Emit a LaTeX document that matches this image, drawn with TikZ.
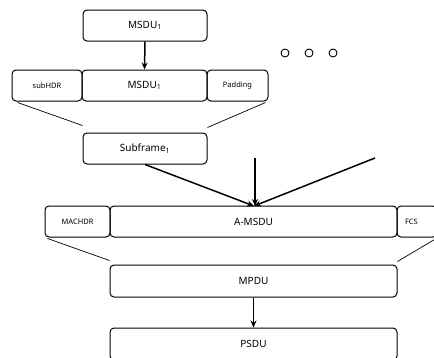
\documentclass[tikz,border=0pt]{standalone}
\usepackage{fontspec}
\setmainfont{Noto Sans}
\usetikzlibrary{arrows.meta}
\begin{document}
\begin{tikzpicture}[x=1pt,y=-1pt,
  box/.style={draw,rounded corners=4pt,inner sep=0pt,line width=1pt,font=\fontsize{10}{12}\selectfont},
  sbox/.style={box,font=\fontsize{7.5}{9}\selectfont},
  link/.style={line width=0.7pt},
  arr/.style={line width=1.5pt,-{Stealth[length=7pt,width=6pt]}},
  dot/.style={draw,circle,line width=0.9pt,minimum size=8pt,inner sep=0pt}
]
\useasboundingbox (0,0) rectangle (434,357);
\clip (0,0) rectangle (434,357);
% row 1
\node[box,minimum width=124pt,minimum height=31pt] (m1) at (145,25.5) {MSDU\textsubscript{1}};
% row 2
\node[sbox,minimum width=70pt,minimum height=31pt] (sub) at (47,85.5) {subHDR};
\node[box,minimum width=125pt,minimum height=31pt] (m2) at (144.5,85.5) {MSDU\textsubscript{1}};
\node[sbox,minimum width=61pt,minimum height=31pt] (pad) at (237.5,85.5) {Padding};
% dots
\node[dot] (d1) at (285,53) {};
\node[dot] (d2) at (309,53) {};
\node[dot] (d3) at (333,53) {};
% subframe
\node[box,minimum width=124pt,minimum height=31pt] (sf) at (145,148.5) {Subframe\textsubscript{1}};
% A-MSDU row
\node[sbox,minimum width=65pt,minimum height=31pt] (mac) at (77.5,221.5) {MACHDR};
\node[box,minimum width=287pt,minimum height=31pt] (am) at (253.5,221.5) {A-MSDU};
\node[sbox,minimum width=40pt,minimum height=31pt,text width=36pt,align=left] (fcs) at (417,221.5) {\hspace*{6pt}FCS};
% MPDU, PSDU
\node[box,minimum width=287pt,minimum height=32pt] (mpdu) at (253.5,281) {MPDU};
\node[box,minimum width=287pt,minimum height=32pt] (psdu) at (253.5,344) {PSDU};
% free ends
\coordinate (c1) at (255,158);
\coordinate (c2) at (375,158);
\coordinate (t) at (254,206);
% arrows
\draw[arr] (m1.south) -- (m2.north);
\draw[arr] (sf.south) -- (t);
\draw[arr] (c1) -- (c1 |- t);
\draw[arr] (c2) -- (t);
\draw[arr] (mpdu.south) -- (psdu.north);
% links
\draw[link] ([xshift=6pt,yshift=-1pt]sub.south west) -- ([yshift=7pt]sf.north west);
\draw[link] ([xshift=-3pt,yshift=-1pt]pad.south east) -- ([yshift=5pt]sf.north east);
\draw[link] ([xshift=3pt,yshift=-1pt]mac.south west) -- ([yshift=4pt]mpdu.north west);
\draw[link] ([xshift=-3pt,yshift=-2pt]fcs.south east) -- ([yshift=3pt]mpdu.north east);
\end{tikzpicture}
\end{document}
